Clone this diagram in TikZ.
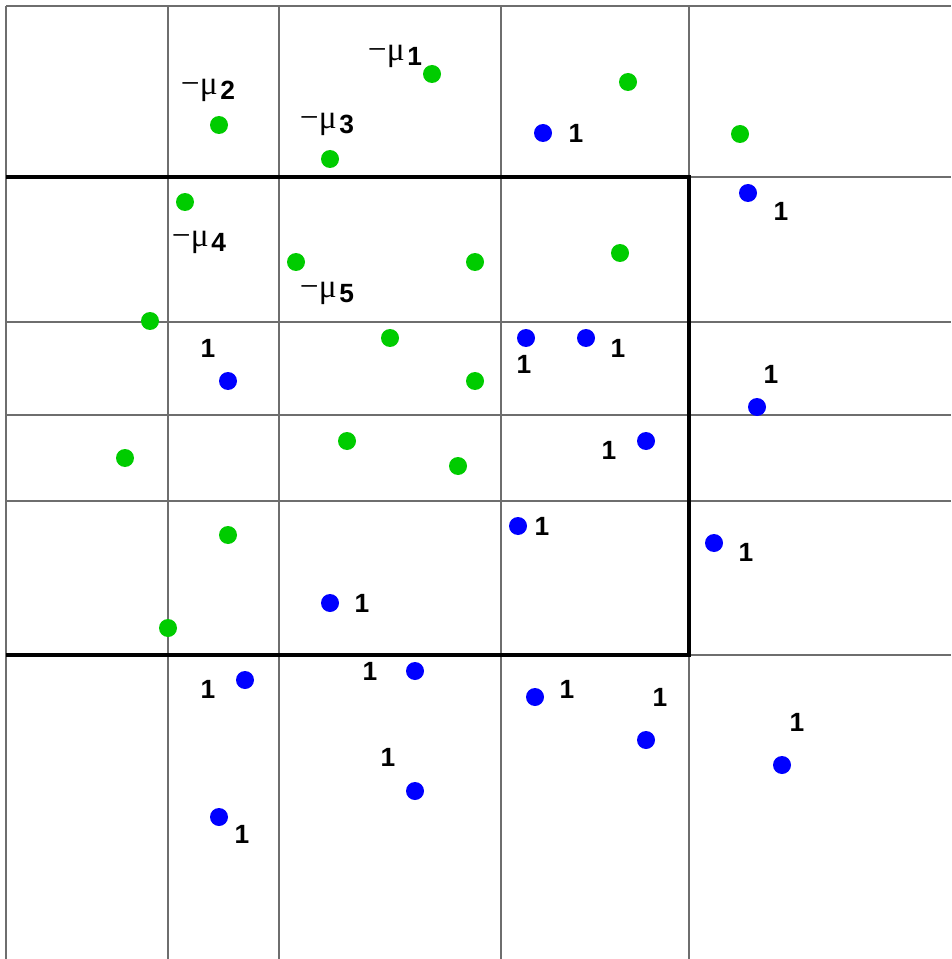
\documentclass[tikz,border=0pt]{standalone}
\usepackage{fontspec}
\setmainfont{Liberation Sans}
\newfontfamily\symfont{Liberation Serif}
\usepackage{tikz}
\usetikzlibrary{positioning}
\definecolor{dotgreen}{HTML}{00CC00}
\definecolor{dotblue}{HTML}{0000FF}
\definecolor{gridgray}{HTML}{6E6E6E}

\begin{document}
\begin{tikzpicture}[x=0.02cm, y=-0.02cm,
    gdot/.style={circle, fill=dotgreen, inner sep=0pt, minimum size=0.36cm},
    bdot/.style={circle, fill=dotblue, inner sep=0pt, minimum size=0.36cm},
    one/.style={inner sep=0pt, font=\fontsize{15}{17}\selectfont\bfseries},
    mulbl/.style={inner sep=0pt, font=\fontsize{15}{17}\selectfont},
    gridline/.style={draw=gridgray, line width=0.6pt},
    boxline/.style={draw=black, line width=2pt}]
  \useasboundingbox (0,0) rectangle (951,959);

  % Gitter
  \foreach \gx in {6,168,279,501,689}
    \draw[gridline] (\gx,6) -- (\gx,959);
  \foreach \gy in {6,177,322,415,501,655}
    \draw[gridline] (6,\gy) -- (951,\gy);

  % Bereich
  \coordinate (boxtl) at (6,177);
  \coordinate (boxbr) at (689,655);
  \draw[boxline] (boxtl) -- (boxtl -| boxbr) -- (boxbr) -- (boxbr -| boxtl);

  % gruene Punkte
  \foreach \n/\px/\py in {1/432/74, 2/219/125, 3/330/159, 4/185/202, 5/296/262,
      6/475/262, 7/628/82, 8/740/134, 9/620/253, 10/150/321, 11/390/338,
      12/475/381, 13/125/458, 14/347/441, 15/458/466, 16/228/535, 17/168/628}
    \node[gdot] (g\n) at (\px,\py) {};

  % Beschriftungen -mu
  \foreach \n/\px/\py in {1/395/56, 2/208/90, 3/327/124, 4/199/242, 5/327/293}
    \node[mulbl] (mu\n) at (\px,\py)
      {{\fontsize{19}{20}\selectfont\symfont −μ}\hspace{1.5pt}\raisebox{-3pt}{\bfseries \n}};

  % blaue Punkte
  \foreach \n/\px/\py in {1/543/133, 2/748/193, 3/526/338, 4/586/338,
      5/228/381, 6/757/407, 7/646/441, 8/518/526, 9/714/543, 10/330/603,
      11/245/680, 12/415/671, 13/415/791, 14/219/817, 15/535/697,
      16/646/740, 17/782/765}
    \node[bdot] (b\n) at (\px,\py) {};

  % Beschriftungen 1
  \foreach \n/\px/\py in {1/576/133, 2/781/211, 3/524/364, 4/618/348,
      5/208/348, 6/771/374, 7/609/450, 8/542/526, 9/746/552, 10/362/603,
      11/208/689, 12/370/671, 13/388/757, 14/242/834, 15/567/689,
      16/660/697, 17/797/722}
    \node[one] (l\n) at (\px,\py) {1};
\end{tikzpicture}
\end{document}
